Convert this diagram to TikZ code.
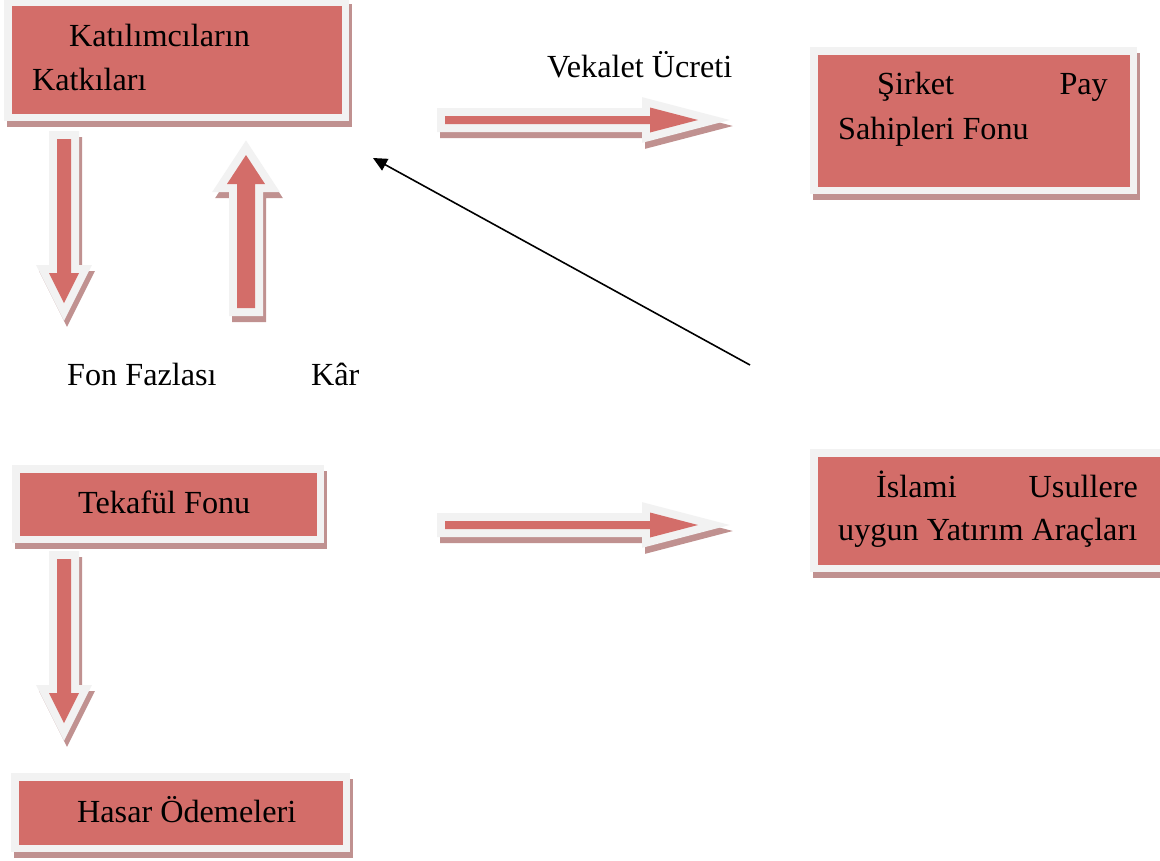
\documentclass[tikz,border=0pt]{standalone}
\usepackage{fontspec}
\setmainfont{Liberation Serif}
\usetikzlibrary{arrows.meta}
\definecolor{redc}{HTML}{D36D69}
\definecolor{framec}{HTML}{F2F2F2}
\definecolor{shadc}{HTML}{C09190}
\tikzset{
  txt/.style={inner sep=0pt, anchor=base west, font=\fontsize{32.2}{38}\selectfont},
  txtr/.style={txt, anchor=base east},
  outl/.style={draw=framec, line width=16pt, line join=miter},
  shad/.style={draw=shadc, fill=shadc, line width=16pt, line join=miter},
}
% box: #1,#2 = top-left of frame, #3,#4 = bottom-right of frame
\newcommand\tbox[4]{%
  \fill[shadc] (#1+3,#2+6) rectangle (#3+3,#4+6);
  \fill[framec] (#1,#2) rectangle (#3,#4);
  \fill[redc] (#1+8,#2+7.5) rectangle (#3-7.5,#4-7.5);
}
\newcommand\barrow[1]{%
  \draw[shad, shift={(3,6)}] #1;
  \draw[outl] #1;
  \fill[redc] #1;
}
\begin{document}
\begin{tikzpicture}[x=1pt,y=-1pt]
\useasboundingbox (0,0) rectangle (1160,860);
\fill[white] (0,0) rectangle (1160,860);
% boxes
\tbox{4}{-2}{349}{121}
\tbox{810}{47}{1137}{194}
\tbox{12}{465}{324}{543}
\tbox{11}{773}{350}{852}
\tbox{810}{449}{1168}{572}
% block arrows
\barrow{(57,139) -- (71,139) -- (71,273) -- (79,273) -- (64,303) -- (49,273) -- (57,273) -- cycle}
\barrow{(237,308) -- (255,308) -- (255,184) -- (265,184) -- (246,155) -- (227,184) -- (237,184) -- cycle}
\barrow{(57,559) -- (71,559) -- (71,693) -- (79,693) -- (64,723) -- (49,693) -- (57,693) -- cycle}
\barrow{(445,116) -- (650,116) -- (650,107.5) -- (698,120) -- (650,132.5) -- (650,124) -- (445,124) -- cycle}
\barrow{(445,521) -- (650,521) -- (650,512.5) -- (698,525) -- (650,537.5) -- (650,529) -- (445,529) -- cycle}
% texts
\node[txt] (k1) at (69,46) {Katılımcıların};
\node[txt] (k2) at (32,90) {Katkıları};
\node[txt] (s1) at (877,94) {Şirket};
\node[txtr] (s2) at (1108,94) {Pay};
\node[txt] (s3) at (838,139) {Sahipleri Fonu};
\node[txt] (t1) at (78,513) {Tekafül Fonu};
\node[txt] (h1) at (77,822) {Hasar Ödemeleri};
\node[txt] (i1) at (876,497) {İslami};
\node[txtr] (i2) at (1138,497) {Usullere};
\node[txt] (i3) at (838,540) {uygun Yatırım Araçları};
\node[txt] (v1) at (547,77) {Vekalet Ücreti};
\node[txt] (f1) at (67,385) {Fon Fazlası};
\node[txt] (r1) at (311,385) {Kâr};
% thin arrow
\coordinate (ta) at (750,365);
\coordinate (th) at (373,158);
\draw[line width=1.6pt, -{Triangle[length=14pt,width=13pt]}] (ta) -- (th);
\end{tikzpicture}
\end{document}
